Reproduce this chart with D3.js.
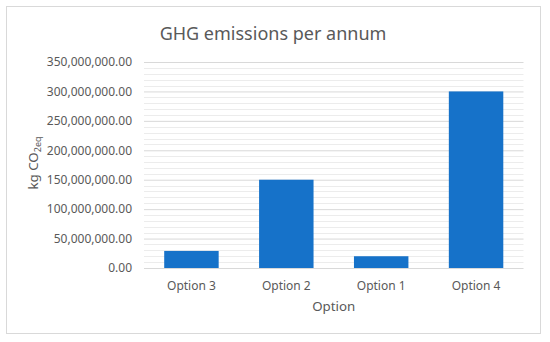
<!DOCTYPE html>
<html>
<head>
<meta charset="utf-8">
<script src="https://cdn.jsdelivr.net/npm/d3@7"></script>
<style>
  body { margin: 0; background: #fff; }
  text { font-family: "Segoe UI", "Noto Sans", sans-serif; fill: #595959; }
</style>
</head>
<body>
<div id="chart"></div>
<script>
// chart data
var options = ["Option 3", "Option 2", "Option 1", "Option 4"];
var emissions = [29000000, 150000000, 20000000, 300000000];
var yTicks = [0, 50000000, 100000000, 150000000, 200000000, 250000000, 300000000, 350000000];

var width = 550,
    height = 342,
    plot = {left: 144, right: 523.5, top: 62, bottom: 268};

var svg = d3.select("#chart").append("svg")
    .attr("width", width)
    .attr("height", height);

// outer chart border
svg.append("rect")
    .attr("x", 6.5)
    .attr("y", 6.5)
    .attr("width", 534)
    .attr("height", 327)
    .attr("fill", "#fff")
    .attr("stroke", "#d9d9d9");

var x = d3.scaleBand()
    .domain(options)
    .range([plot.left, plot.right])
    .paddingInner(0.426)
    .paddingOuter(0.213);

var y = d3.scaleLinear()
    .domain([0, 350000000])
    .range([plot.bottom, plot.top]);

// minor gridlines every 10M
var minor = d3.range(0, 350000001, 10000000).filter(d => d % 50000000 != 0);
svg.append("g")
    .selectAll("line")
    .data(minor)
    .join("line")
    .attr("x1", plot.left)
    .attr("x2", plot.right)
    .attr("y1", d => Math.round(y(d)) + 0.5)
    .attr("y2", d => Math.round(y(d)) + 0.5)
    .attr("stroke", "#ececec");

// major gridlines + tick labels via axis
var yAxis = d3.axisLeft(y)
    .tickValues(yTicks)
    .tickSize(-(plot.right - plot.left))
    .tickPadding(12)
    .tickFormat(d3.format(",.2f"));

svg.append("g")
    .attr("transform", "translate(" + plot.left + ",0)")
    .call(yAxis)
    .call(g => g.select(".domain").remove())
    .call(g => g.selectAll("line").attr("stroke", "#d9d9d9"))
    .call(g => g.selectAll("text").attr("font-size", "12px").attr("fill", "#595959"));

// bars
svg.append("g")
    .selectAll("rect")
    .data(emissions)
    .join("rect")
    .attr("x", (d, i) => x(options[i]))
    .attr("y", d => y(d))
    .attr("width", x.bandwidth())
    .attr("height", d => plot.bottom - y(d))
    .attr("fill", "#1672c9");

// x axis labels
var xAxis = d3.axisBottom(x).tickSize(0).tickPadding(13);
svg.append("g")
    .attr("transform", "translate(0," + plot.bottom + ")")
    .call(xAxis)
    .call(g => g.select(".domain").remove())
    .call(g => g.selectAll("text").attr("font-size", "12px").attr("fill", "#595959"));

// chart title
svg.append("text")
    .attr("x", 273)
    .attr("y", 40)
    .attr("text-anchor", "middle")
    .attr("font-size", "18px")
    .text("GHG emissions per annum");

// axis titles
svg.append("text")
    .attr("x", (plot.left + plot.right) / 2)
    .attr("y", 311)
    .attr("text-anchor", "middle")
    .attr("font-size", "13.3px")
    .text("Option");

var yTitle = svg.append("text")
    .attr("transform", "translate(38," + 163 + ") rotate(-90)")
    .attr("text-anchor", "middle")
    .attr("font-size", "13.3px");
yTitle.append("tspan").text("kg CO");
yTitle.append("tspan")
    .attr("font-size", "9px")
    .attr("dy", 3)
    .text("2eq");
</script>
</body>
</html>
